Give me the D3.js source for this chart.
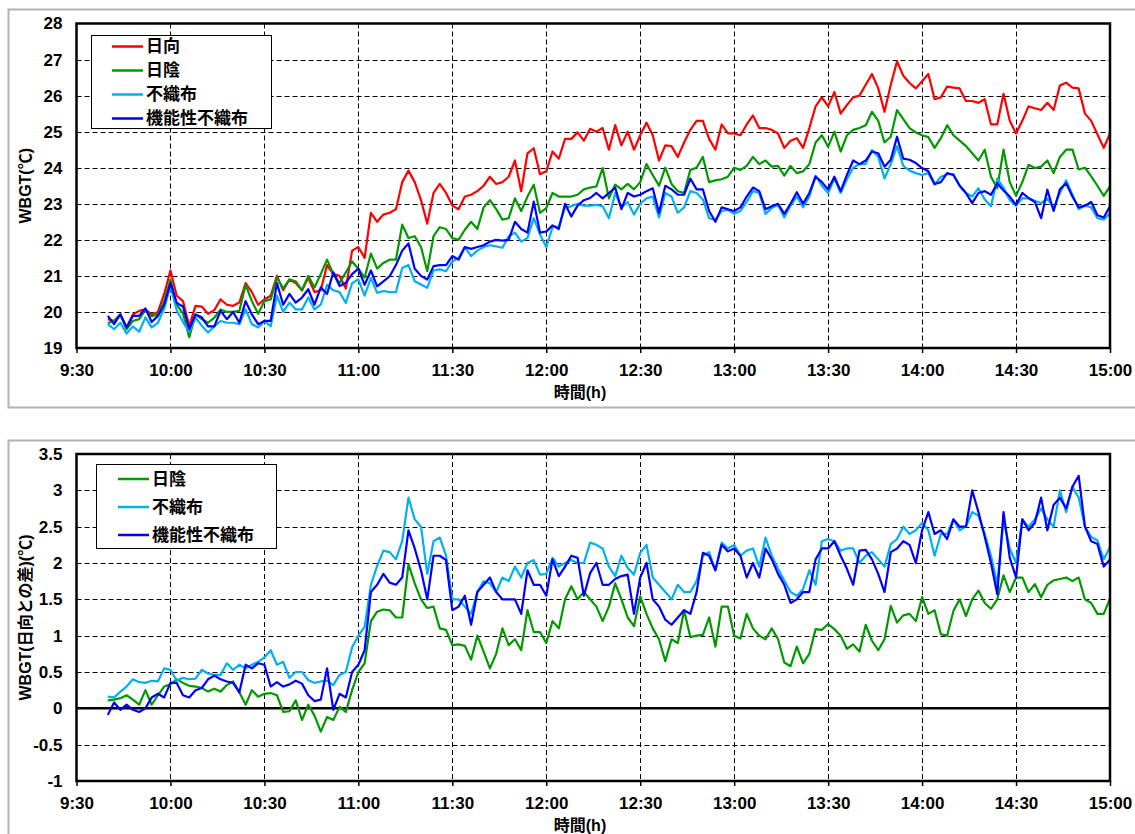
<!DOCTYPE html>
<html>
<head>
<meta charset="utf-8">
<script src="https://cdn.jsdelivr.net/npm/d3@7"></script>
<style>
  body { margin: 0; background: #fff; }
  svg text { font-family: "Liberation Sans", Arial, "Noto Sans CJK JP", sans-serif; font-weight: bold; fill: #000; }
</style>
</head>
<body>
<svg id="chart" width="1135" height="834"></svg>
<script>
// sampling: every 2 minutes from 9:40 to 15:00 (minutes after midnight)
const startMinute = 580;
const stepMinute = 2;

const tickMinutes = [570, 600, 630, 660, 690, 720, 750, 780, 810, 840, 870, 900];
const tickLabels = ['9:30', '10:00', '10:30', '11:00', '11:30', '12:00', '12:30', '13:00', '13:30', '14:00', '14:30', '15:00'];

// WBGT (℃)
const sun = [19.8,19.75,19.93,19.57,19.93,20.03,20.07,19.93,20.0,20.5,
21.15,20.45,20.3,19.6,20.17,20.15,19.95,20.05,20.35,20.2,
20.17,20.26,20.8,20.55,20.2,20.35,20.45,21.0,20.6,20.9,
20.8,20.6,20.95,20.55,20.6,21.3,21.05,21.0,20.65,21.7,
21.8,21.5,22.75,22.5,22.7,22.75,22.85,23.6,23.92,23.6,
23.1,22.45,23.3,23.55,23.3,22.95,22.85,23.2,23.25,23.35,
23.5,23.75,23.55,23.6,23.75,24.2,23.35,24.4,24.54,23.82,
23.9,24.45,24.25,24.8,24.8,24.98,24.75,25.08,25.0,25.1,
24.5,25.18,24.62,25.0,24.5,24.9,25.25,24.9,24.2,24.62,
24.6,24.3,24.7,25.05,25.3,25.3,24.8,24.5,25.2,24.95,
24.95,24.9,25.2,25.45,25.1,25.1,25.05,24.95,24.55,24.75,
24.82,24.55,25.1,25.7,25.95,25.7,26.1,25.5,25.74,25.95,
26.0,26.3,26.6,26.2,25.55,26.3,26.95,26.55,26.35,26.2,
26.4,26.6,25.9,25.95,26.25,26.22,26.2,25.85,25.85,25.8,
25.9,25.2,25.2,26.05,25.3,24.95,25.3,25.7,25.65,25.6,
25.8,25.6,26.28,26.36,26.22,26.2,25.5,25.3,24.92,24.55,
24.95];

const shade = [19.69,19.75,19.93,19.52,19.75,19.8,20.05,19.88,19.93,20.3,
20.9,20.2,19.95,19.3,19.93,19.8,19.7,19.84,20.07,20.0,
20.0,20.03,20.75,20.3,19.95,20.3,20.35,20.95,20.65,20.9,
20.85,20.6,21.0,20.68,21.05,21.45,21.05,20.8,21.1,21.4,
21.2,20.95,21.62,21.2,21.36,21.45,21.45,22.42,22.05,22.1,
21.8,21.13,22.1,22.35,22.3,22.05,22.0,22.28,22.5,22.3,
22.9,23.1,22.85,22.56,22.6,23.15,22.8,23.2,23.53,22.75,
22.88,23.3,23.2,23.2,23.2,23.25,23.4,23.45,23.48,23.99,
23.15,23.53,23.4,23.55,23.4,23.6,24.1,23.8,23.5,24.0,
23.55,23.35,23.3,23.94,24.0,24.3,23.6,23.65,23.68,23.75,
24.0,23.94,24.05,24.3,24.1,24.2,24.03,24.05,23.78,24.05,
23.85,23.9,24.1,24.7,24.9,24.58,25.0,24.45,24.9,25.05,
25.1,25.18,25.55,25.3,24.7,24.86,25.6,25.35,25.1,24.98,
24.9,24.85,24.55,24.82,25.18,24.9,24.75,24.6,24.4,24.2,
24.5,23.75,23.43,24.5,23.6,23.22,23.6,24.08,23.99,24.03,
24.2,23.85,24.3,24.5,24.5,23.95,24.0,23.76,23.5,23.22,
23.48];

const fabric = [19.66,19.52,19.7,19.4,19.6,19.45,19.85,19.57,19.7,20.1,
20.72,20.05,19.72,19.45,19.84,19.62,19.43,19.6,19.75,19.7,
19.7,19.66,20.07,19.66,19.57,19.75,19.6,20.45,20.0,20.26,
20.07,20.07,20.4,20.07,20.2,20.75,20.6,20.55,20.25,20.8,
20.9,20.45,20.94,20.53,20.58,20.55,20.55,21.22,21.3,20.85,
20.76,20.67,21.15,21.18,21.13,21.4,21.5,21.8,21.55,21.7,
21.8,21.85,21.82,21.78,22.1,22.2,21.95,22.05,22.6,22.15,
21.8,22.35,22.37,22.9,22.93,23.0,22.95,22.95,22.97,22.93,
22.6,23.3,22.9,23.05,22.7,23.0,23.15,23.2,22.62,23.3,
23.2,22.75,22.9,23.35,23.3,23.12,22.6,22.55,22.8,22.83,
22.72,22.8,23.05,23.35,23.3,22.72,22.88,22.97,22.62,22.95,
23.2,22.9,23.2,23.78,23.5,23.3,23.7,23.3,23.68,24.0,
24.1,24.1,24.49,24.3,23.7,24.1,24.6,24.05,23.92,23.85,
23.8,23.85,23.53,23.75,23.82,23.82,23.5,23.3,23.2,23.43,
23.12,22.93,23.7,23.45,23.1,22.95,23.15,23.15,23.08,23.02,
23.14,22.88,23.3,23.65,23.25,22.85,22.95,22.9,22.6,22.56,
22.74];

const funcFabric = [19.89,19.66,19.93,19.57,19.89,19.89,20.1,19.72,19.89,20.2,
20.8,20.25,20.15,19.52,19.93,19.85,19.6,19.6,20.03,19.8,
20.0,19.7,20.3,19.93,19.66,19.75,19.75,20.8,20.2,20.5,
20.26,20.4,20.63,20.2,20.68,20.5,21.1,20.72,20.81,21.05,
21.2,20.75,21.15,20.71,20.85,20.99,21.3,21.7,21.9,21.2,
21.0,20.9,21.27,21.3,21.3,21.55,21.45,21.8,21.75,21.8,
21.85,21.95,22.0,21.98,22.0,22.5,22.3,22.2,23.06,22.2,
22.23,22.4,22.3,23.0,22.65,22.95,23.1,23.16,23.3,23.15,
23.3,23.45,22.85,23.3,23.2,23.25,23.35,23.43,22.75,23.5,
23.4,23.25,23.25,23.7,23.4,23.4,22.8,22.5,22.9,22.85,
22.8,22.9,23.2,23.45,23.35,22.85,22.93,23.0,22.72,23.0,
23.32,23.0,23.3,23.75,23.6,23.4,23.75,23.35,23.8,24.2,
24.1,24.2,24.45,24.4,24.03,24.22,24.86,24.25,24.22,24.13,
23.99,23.9,23.55,23.6,23.85,23.8,23.5,23.3,23.02,23.3,
23.35,23.25,23.57,23.37,23.2,22.97,23.3,23.16,23.05,22.6,
23.39,22.8,23.4,23.57,23.2,22.9,22.95,23.05,22.68,22.62,
22.93];

// WBGT difference from 日向 (℃)
const shadeDiff = [0.11,0.12,0.14,0.18,0.12,0.05,0.25,0.05,0.18,0.3,
0.33,0.4,0.35,0.31,0.3,0.28,0.23,0.27,0.23,0.32,
0.37,0.22,0.05,0.25,0.16,0.2,0.21,0.18,-0.05,-0.04,
0.11,-0.16,0.05,-0.1,-0.32,-0.12,-0.16,0.02,-0.05,0.25,
0.5,0.62,1.2,1.33,1.36,1.35,1.25,1.25,1.98,1.72,
1.5,1.38,1.4,1.1,1.08,0.87,0.88,0.86,0.67,1.0,
0.78,0.55,0.75,1.1,0.87,0.95,0.8,1.35,1.05,1.05,
0.9,1.2,1.1,1.5,1.68,1.5,1.6,1.5,1.4,1.2,
1.4,1.72,1.5,1.25,1.13,1.54,1.3,1.1,0.95,0.65,
0.95,0.9,1.35,0.98,1.0,1.01,1.25,0.85,1.4,1.4,
1.0,0.96,1.3,1.1,1.0,0.95,1.1,0.95,0.63,0.58,
0.85,0.62,0.75,1.09,1.08,1.16,1.09,1.0,0.82,0.88,
0.78,1.15,0.93,0.8,0.95,1.41,1.18,1.28,1.3,1.2,
1.53,1.3,1.35,1.02,1.0,1.34,1.5,1.27,1.5,1.62,
1.45,1.37,1.5,1.83,1.6,1.8,1.8,1.6,1.71,1.53,
1.7,1.76,1.78,1.8,1.75,1.8,1.5,1.45,1.3,1.3,
1.51];

const fabricDiff = [0.16,0.15,0.23,0.3,0.4,0.36,0.35,0.38,0.37,0.55,
0.53,0.38,0.42,0.4,0.41,0.53,0.48,0.46,0.46,0.62,
0.53,0.6,0.55,0.6,0.64,0.7,0.8,0.6,0.64,0.42,
0.5,0.5,0.39,0.35,0.37,0.38,0.32,0.46,0.5,0.84,
1.0,1.12,1.7,1.96,2.17,2.15,2.05,2.3,2.9,2.6,
2.5,1.85,2.3,2.35,2.1,1.5,1.5,1.4,1.3,1.6,
1.75,1.72,1.6,1.8,1.75,1.95,1.8,2.0,2.04,1.84,
1.85,2.07,1.95,2.0,2.04,2.0,2.0,2.28,2.25,2.2,
1.95,1.82,2.1,1.93,1.84,2.14,2.25,1.8,1.7,1.6,
1.5,1.7,1.6,1.6,1.75,2.1,2.15,1.9,2.28,2.2,
2.25,2.1,2.17,2.2,1.95,2.35,2.1,1.92,1.76,1.6,
1.55,1.64,1.9,1.7,2.3,2.33,2.3,2.17,2.2,2.2,
2.0,2.1,2.15,2.05,1.95,2.26,2.33,2.5,2.4,2.45,
2.55,2.45,2.1,2.4,2.4,2.6,2.45,2.5,2.7,2.65,
2.4,2.1,1.7,2.6,2.2,2.0,2.6,2.5,2.6,2.75,
2.6,2.5,3.0,2.7,3.05,2.9,2.5,2.36,2.31,2.05,
2.22];

const funcDiff = [-0.09,0.08,-0.02,0.05,-0.02,-0.05,0.0,0.15,0.2,0.15,
0.35,0.35,0.18,0.15,0.25,0.28,0.4,0.45,0.4,0.37,
0.35,0.22,0.6,0.55,0.62,0.6,0.3,0.36,0.3,0.33,
0.38,0.34,0.18,0.1,0.12,0.55,-0.02,0.2,0.15,0.5,
0.6,0.8,1.6,1.7,1.85,1.73,1.7,1.8,2.45,2.2,
1.9,1.5,2.1,2.1,2.04,1.35,1.4,1.55,1.15,1.6,
1.7,1.8,1.6,1.5,1.5,1.5,1.3,1.9,1.7,1.7,
1.55,2.05,1.82,1.95,2.1,2.07,1.55,1.86,2.0,1.7,
1.7,1.78,1.82,1.84,1.3,1.8,2.0,1.5,1.4,1.22,
1.15,1.25,1.35,1.3,1.6,2.14,2.1,1.9,2.25,2.16,
2.2,2.1,1.8,2.0,1.8,2.2,2.05,1.85,1.7,1.45,
1.5,1.6,1.6,2.05,2.2,2.2,2.3,2.1,1.92,1.7,
2.17,2.18,2.05,1.85,1.6,2.15,2.2,2.3,2.25,2.0,
2.45,2.7,2.4,2.45,2.33,2.6,2.5,2.5,3.0,2.7,
2.36,2.0,1.57,2.7,2.07,1.8,2.6,2.45,2.55,2.9,
2.45,2.8,2.9,2.75,3.05,3.2,2.5,2.3,2.26,1.95,
2.05];

const colors = { sun: '#ff0000', shade: '#009900', fabric: '#00b0f0', func: '#0000ff' };

const svg = d3.select('#chart');

// panel frames (right side runs off the picture)
svg.append('rect').attr('x', 8.5).attr('y', 9.5).attr('width', 1140).attr('height', 398)
  .attr('fill', 'none').attr('stroke', '#b4b4b4').attr('stroke-width', 2);
svg.append('rect').attr('x', 8.5).attr('y', 440.5).attr('width', 1140).attr('height', 420)
  .attr('fill', 'none').attr('stroke', '#b4b4b4').attr('stroke-width', 2);

function drawPanel(opt) {
  const x = d3.scaleLinear().domain([570, 900]).range([opt.left, opt.right]);
  const y = d3.scaleLinear().domain(opt.yDomain).range([opt.bottom, opt.top]);
  const g = svg.append('g');

  // grid
  g.append('g').selectAll('line').data(opt.yTicks.slice(1, -1)).join('line')
    .attr('x1', opt.left).attr('x2', opt.right)
    .attr('y1', d => Math.round(y(d)) + 0.5).attr('y2', d => Math.round(y(d)) + 0.5)
    .attr('stroke', '#000').attr('stroke-width', 1).attr('stroke-dasharray', '5,3');
  g.append('g').selectAll('line').data(tickMinutes.slice(1, -1)).join('line')
    .attr('x1', d => Math.round(x(d)) + 0.5).attr('x2', d => Math.round(x(d)) + 0.5)
    .attr('y1', opt.top).attr('y2', opt.bottom)
    .attr('stroke', '#000').attr('stroke-width', 1).attr('stroke-dasharray', '5,3');

  // axes
  const xAxis = d3.axisBottom(x).tickValues(tickMinutes)
    .tickFormat((d, i) => tickLabels[i]).tickSize(5).tickSizeOuter(0).tickPadding(11);
  const gx = g.append('g').attr('transform', `translate(0,${opt.bottom})`).call(xAxis);
  gx.select('.domain').remove();
  gx.selectAll('line').attr('stroke', '#000').attr('stroke-width', 1.5);
  gx.selectAll('text').attr('font-size', 17);

  const yAxis = d3.axisLeft(y).tickValues(opt.yTicks).tickFormat(opt.yFormat)
    .tickSize(0).tickPadding(14);
  const gy = g.append('g').attr('transform', `translate(${opt.left},0)`).call(yAxis);
  gy.select('.domain').remove();
  gy.selectAll('text').attr('font-size', 17);

  if (opt.zeroLine) {
    g.append('line').attr('x1', opt.left).attr('x2', opt.right)
      .attr('y1', y(0)).attr('y2', y(0)).attr('stroke', '#000').attr('stroke-width', 2.5);
  }

  // series
  const line = d3.line().x((d, i) => x(startMinute + i * stepMinute)).y(d => y(d));
  const clipId = 'clip' + opt.top;
  svg.append('clipPath').attr('id', clipId).append('rect')
    .attr('x', opt.left).attr('y', opt.top).attr('width', opt.right - opt.left).attr('height', opt.bottom - opt.top);
  g.append('g').attr('clip-path', `url(#${clipId})`).selectAll('path').data(opt.series).join('path')
    .attr('d', s => line(s.values))
    .attr('fill', 'none').attr('stroke', s => s.color).attr('stroke-width', 2.2)
    .attr('stroke-linejoin', 'round');

  // plot frame
  g.append('rect').attr('x', opt.left).attr('y', opt.top)
    .attr('width', opt.right - opt.left).attr('height', opt.bottom - opt.top)
    .attr('fill', 'none').attr('stroke', '#000').attr('stroke-width', 2.5);

  // axis titles
  g.append('text').attr('x', 580).attr('y', opt.bottom + 50).attr('text-anchor', 'middle')
    .attr('font-size', 16).text('時間(h)');
  g.append('text').attr('transform', `translate(27,${(opt.top + opt.bottom) / 2}) rotate(-90)`)
    .attr('text-anchor', 'middle').attr('dominant-baseline', 'middle')
    .attr('font-size', 16).text(opt.yTitle);

  // legend
  const lg = opt.legend;
  g.append('rect').attr('x', lg.x).attr('y', lg.y).attr('width', lg.w).attr('height', lg.h)
    .attr('fill', '#fff').attr('stroke', '#000').attr('stroke-width', 1);
  const items = g.append('g').selectAll('g').data(opt.series).join('g')
    .attr('transform', (d, i) => `translate(0,${lg.rowY + i * lg.rowStep})`);
  items.append('line').attr('x1', lg.lineX).attr('x2', lg.lineX + 31)
    .attr('stroke', d => d.color).attr('stroke-width', 2.5);
  items.append('text').attr('x', lg.lineX + 34).attr('dominant-baseline', 'central')
    .attr('font-size', 17).text(d => d.name);
}

drawPanel({
  left: 76.5, right: 1110, top: 23.5, bottom: 348,
  yDomain: [19, 28], yTicks: d3.range(19, 29), yFormat: d3.format('d'),
  yTitle: 'WBGT(℃)',
  series: [
    { name: '日向', values: sun, color: colors.sun },
    { name: '日陰', values: shade, color: colors.shade },
    { name: '不織布', values: fabric, color: colors.fabric },
    { name: '機能性不織布', values: funcFabric, color: colors.func }
  ],
  legend: { x: 91.5, y: 35.5, w: 180, h: 93, rowY: 46.5, rowStep: 24, lineX: 112 }
});

drawPanel({
  left: 76.5, right: 1110, top: 454, bottom: 781,
  yDomain: [-1, 3.5], yTicks: [-1, -0.5, 0, 0.5, 1, 1.5, 2, 2.5, 3, 3.5], yFormat: d => String(d),
  yTitle: 'WBGT(日向との差)(℃)', zeroLine: true,
  series: [
    { name: '日陰', values: shadeDiff, color: colors.shade },
    { name: '不織布', values: fabricDiff, color: colors.fabric },
    { name: '機能性不織布', values: funcDiff, color: colors.func }
  ],
  legend: { x: 96.5, y: 464.5, w: 180, h: 84, rowY: 479, rowStep: 28, lineX: 118 }
});
</script>
</body>
</html>
